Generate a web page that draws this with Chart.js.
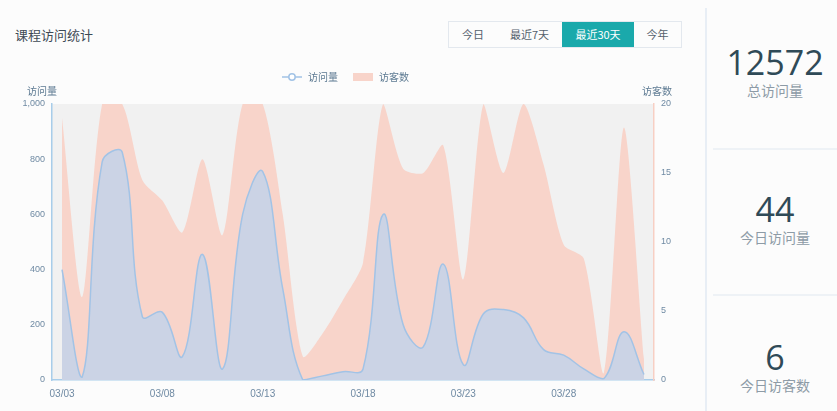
<!DOCTYPE html>
<html><head><meta charset="utf-8">
<script src="https://cdn.jsdelivr.net/npm/chart.js@4"></script>
<style>
html,body{margin:0;padding:0;width:837px;height:411px;background:#fcfcfc;overflow:hidden;font-family:"Noto Sans CJK SC","Open Sans",sans-serif;}
#title{position:absolute;left:15px;top:25px;font-size:13px;color:#3e4a55;}
#btns{position:absolute;left:448px;top:21px;height:25px;display:flex;border:1px solid #e3e8ee;}
#btns div{font-size:11px;color:#55616c;line-height:25px;text-align:center;}
#btns .on{background:#1aa9ab;color:#fff;}
#wrap{position:absolute;left:0;top:0;width:690px;height:411px;}
#vline{position:absolute;left:705px;top:8px;width:2px;height:403px;background:#e8eef5;}
.stat{position:absolute;left:713px;width:124px;text-align:center;}
.num{font-family:"Open Sans","Noto Sans CJK SC",sans-serif;font-size:34px;color:#2f4a57;line-height:36px;}
.lab{font-size:14px;color:#8d9ba6;line-height:18px;margin-top:1px;}
.hl{position:absolute;left:713px;width:124px;height:2px;background:#eef2f6;}
</style></head>
<body>
<div id="title">课程访问统计</div>
<div id="btns">
 <div style="width:48px">今日</div>
 <div style="width:65px">最近7天</div>
 <div class="on" style="width:72px">最近30天</div>
 <div style="width:47px">今年</div>
</div>
<div id="wrap"><canvas id="c"></canvas></div>
<div id="vline"></div>
<div class="stat" style="top:44px"><div class="num">12572</div><div class="lab">总访问量</div></div>
<div class="hl" style="top:148px"></div>
<div class="stat" style="top:191px"><div class="num">44</div><div class="lab">今日访问量</div></div>
<div class="hl" style="top:294px"></div>
<div class="stat" style="top:339px"><div class="num">6</div><div class="lab">今日访客数</div></div>
<script>
const categories = ["03/03","03/04","03/05","03/06","03/07","03/08","03/09","03/10","03/11","03/12","03/13","03/14","03/15","03/16","03/17","03/18","03/19","03/20","03/21","03/22","03/23","03/24","03/25","03/26","03/27","03/28","03/29","03/30","03/31","04/01"];
const visits   = [400, 10, 790, 825, 230, 245, 85, 455, 40, 600, 755, 330, 0, 15, 30, 40, 600, 200, 120, 420, 55, 240, 255, 225, 110, 90, 40, 5, 175, 20];
const visitors = [19, 6, 20, 20, 14.5, 13, 10.7, 16, 10.5, 20, 20, 12, 1.7, 3.4, 5.8, 8.5, 20, 15.3, 15, 17, 7.3, 20, 15, 20, 15.6, 9.8, 8.8, 0.5, 18.3, 1.5];
const seriesNames = ["访问量","访客数"];
const axisTitles = ["访问量","访客数"];

function legendIcon(kind){
  const c = document.createElement('canvas');
  c.width = 20; c.height = 10;
  const g = c.getContext('2d');
  if(kind===0){
    g.strokeStyle = '#a2c3e6'; g.lineWidth = 1.5;
    g.beginPath(); g.moveTo(0,5); g.lineTo(20,5); g.stroke();
    g.fillStyle = '#ffffff';
    g.beginPath(); g.arc(10,5,3.2,0,Math.PI*2); g.fill(); g.stroke();
  } else {
    g.fillStyle = '#f8d4ca';
    g.fillRect(0,1,20,8);
  }
  return c;
}

const bgPlugin = {
  id:'bg',
  beforeDraw(chart){
    const {ctx, chartArea:a} = chart;
    ctx.save();
    ctx.fillStyle = '#f1f1f1';
    ctx.fillRect(a.left, a.top, a.right-a.left, a.bottom-a.top);
    ctx.restore();
  },
  afterDraw(chart){
    const {ctx, chartArea:a} = chart;
    ctx.save();
    ctx.font = '10px "Noto Sans CJK SC"';
    ctx.fillStyle = '#5d7a92';
    ctx.textBaseline = 'middle';
    ctx.textAlign = 'center';
    ctx.fillText(axisTitles[0], a.left-10, a.top-13);
    ctx.fillText(axisTitles[1], a.right+3, a.top-13);
    ctx.restore();
  }
};
const legendSpace = {
  id:'legendSpace',
  beforeInit(chart){
    const orig = chart.legend.fit;
    chart.legend.fit = function(){ orig.bind(chart.legend)(); this.height += 12; };
  }
};

new Chart(document.getElementById('c'), {
  type:'line',
  data:{
    labels:categories,
    datasets:[
      {label:seriesNames[0], data:visits, yAxisID:'y', fill:'origin', tension:0.4,
       borderColor:'#a2c3e6', borderWidth:1.5, backgroundColor:'#cbd3e5',
       pointRadius:0},
      {label:seriesNames[1], data:visitors, yAxisID:'y1', fill:'origin', tension:0.25,
       borderColor:'rgba(0,0,0,0)', borderWidth:0, backgroundColor:'#f8d4ca',
       pointRadius:0}
    ]
  },
  options:{
    responsive:true, maintainAspectRatio:false, animation:false,
    layout:{padding:{top:58,bottom:3,left:0,right:0}},
    plugins:{
      legend:{display:true, position:'top',
        labels:{usePointStyle:true, pointStyleWidth:22, boxWidth:20, boxHeight:10, font:{size:10, family:'"Noto Sans CJK SC"'}, color:'#5d7a92', padding:14,
          generateLabels(chart){
            return chart.data.datasets.map((d,i)=>({text:d.label, pointStyle:legendIcon(i), fillStyle:'transparent', strokeStyle:'transparent', lineWidth:0, datasetIndex:i, fontColor:'#5d7a92'}));
          }}},
      tooltip:{enabled:false}
    },
    scales:{
      x:{offset:true, grid:{display:false, drawTicks:false},
        border:{color:'#a8cdea', width:1.5},
        ticks:{autoSkip:false, maxRotation:0, padding:8, color:'#6f8aa3', font:{size:10},
          callback(v,i){ return i%5===0 ? categories[i] : ''; }}},
      y:{position:'left', min:0, max:1000, grid:{display:false, drawTicks:false},
        border:{color:'#a8cdea', width:1.5},
        ticks:{stepSize:200, padding:7, color:'#6f8aa3', font:{size:9}},
        afterFit(s){ s.width = 52; }},
      y1:{position:'right', min:0, max:20, grid:{display:false, drawTicks:false},
        border:{color:'#f7cfc4', width:1.5},
        ticks:{stepSize:5, padding:7, color:'#6f8aa3', font:{size:9}},
        afterFit(s){ s.width = 36; }}
    }
  },
  plugins:[bgPlugin, legendSpace]
});
</script>
</body></html>
